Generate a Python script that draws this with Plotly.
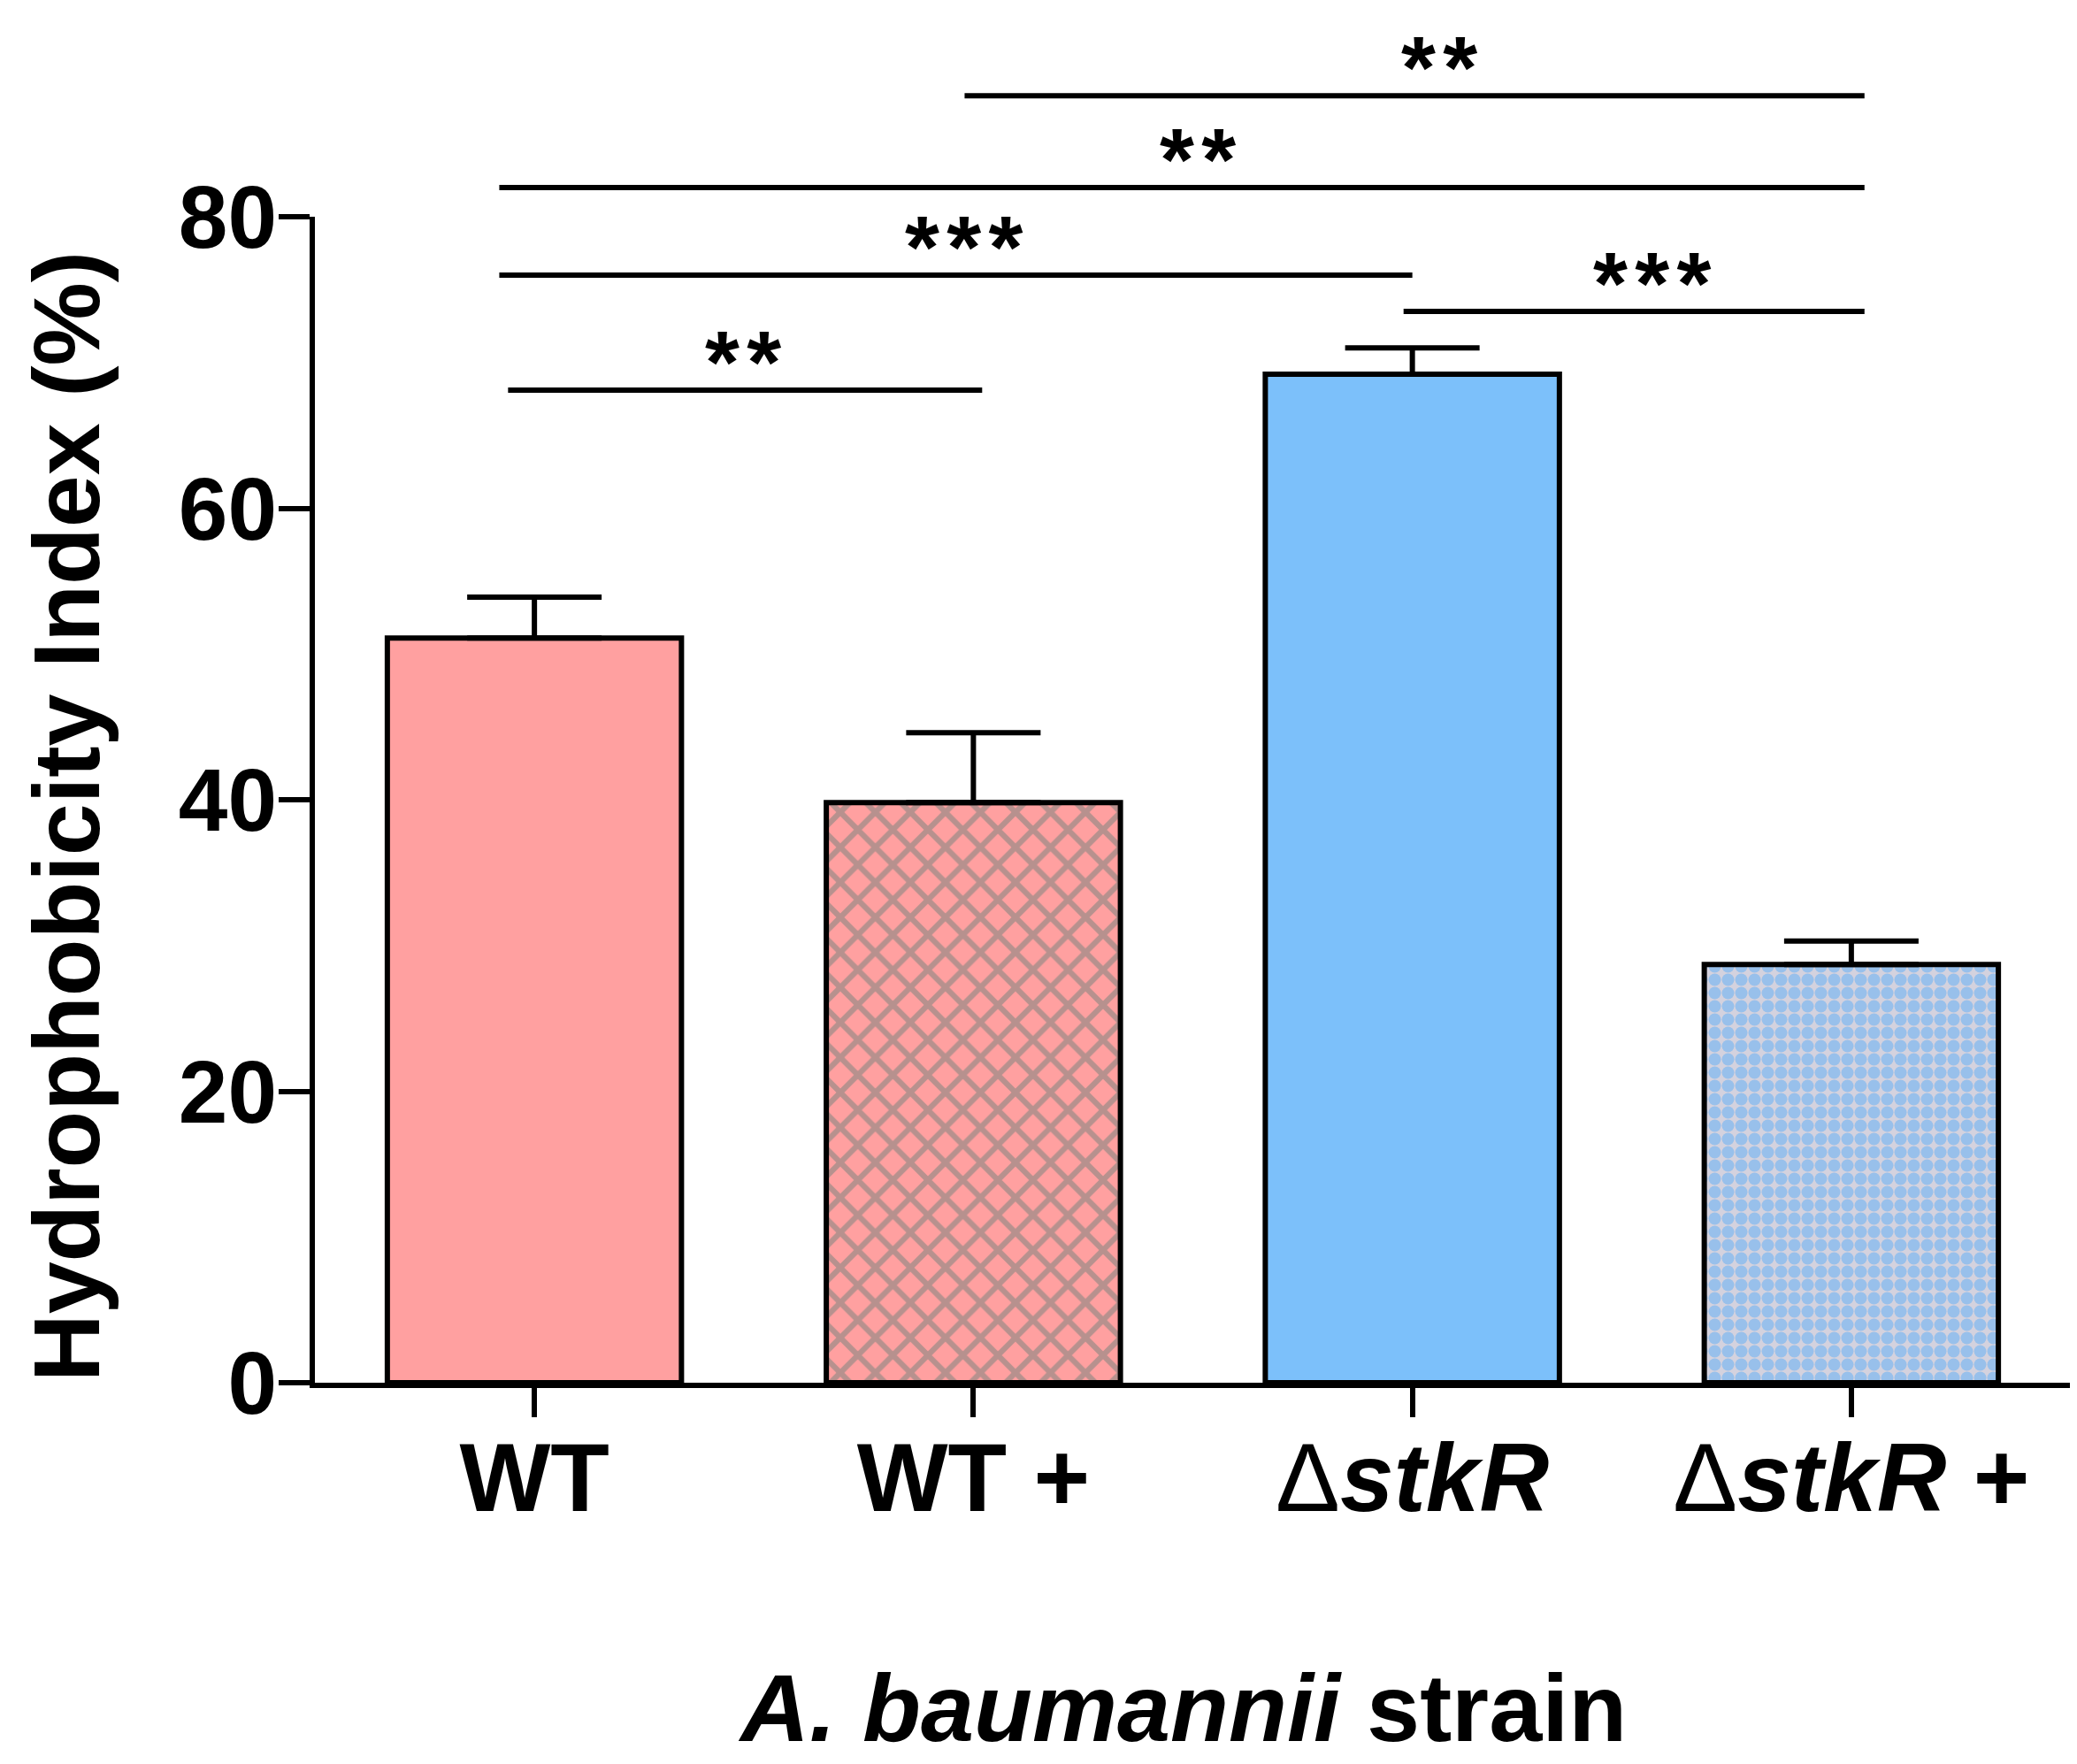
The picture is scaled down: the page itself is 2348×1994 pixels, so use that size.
import plotly.graph_objects as go

strains = ["WT", "WT +", "ΔstkR", "ΔstkR +"]
tick_text = ["WT", "WT +",
             "<span style='font-weight:normal'>Δ</span><i>stkR</i>",
             "<span style='font-weight:normal'>Δ</span><i>stkR</i> +"]
means = [51.1, 39.8, 69.2, 28.7]
sem = [2.8, 4.8, 1.8, 1.6]

# significance brackets (x in category units, height in %)
cmp_label = ["**", "***", "***", "**", "**"]
cmp_height = [68.1, 76.0, 73.5, 82.0, 88.3]
cmp_x0 = [-0.06, -0.08, 1.98, -0.08, 0.98]
cmp_x1 = [1.02, 2.0, 3.03, 3.03, 3.03]
cmp_label_x = [0.476, 0.98, 2.546, 1.511, 2.061]

FONT = "Liberation Sans, Arial, sans-serif"
fills = ["#FFA0A0", "#FFA0A0", "#7CC0FA", "#7CC0FA"]
patterns = [
    dict(shape=""),
    dict(shape="x", fgcolor="#6F817C", bgcolor="#FFA0A0", size=28, solidity=0.4),
    dict(shape=""),
    dict(shape=".", fgcolor="#5CAEF8", bgcolor="#D4D2DE", size=15, solidity=0.68),
]

fig = go.Figure()
for i in range(len(strains)):
    fig.add_trace(go.Bar(
        x=[i], y=[means[i]], width=0.67,
        marker=dict(color=fills[i], pattern=patterns[i],
                    line=dict(color="black", width=6)),
        error_y=dict(type="data", symmetric=False, array=[sem[i]], arrayminus=[0],
                     color="black", thickness=6, width=76),
        showlegend=False,
    ))

ymax = 80
shapes = []
annotations = []
for lab, h, x0, x1, lx in zip(cmp_label, cmp_height, cmp_x0, cmp_x1, cmp_label_x):
    shapes.append(dict(type="line", xref="x", yref="paper", x0=x0, x1=x1,
                       y0=h / ymax, y1=h / ymax, line=dict(color="black", width=6)))
    annotations.append(dict(xref="x", yref="paper", x=lx, y=h / ymax,
                            yshift=-26, text="\u200a".join(lab), showarrow=False,
                            yanchor="bottom", xanchor="center",
                            font=dict(size=100, family=FONT, color="black", weight="bold")))

annotations.append(dict(xref="paper", yref="paper", x=-0.1416, y=0.4856,
                        xanchor="center", yanchor="middle",
                        text="<b>Hydrophobicity Index (%)</b>", textangle=-90,
                        showarrow=False, font=dict(size=106, family=FONT, color="black")))
annotations.append(dict(xref="paper", yref="paper", x=0.494, y=-0.2785,
                        xanchor="center", yanchor="middle",
                        text="<b><i>A. baumannii</i> strain</b>",
                        showarrow=False, font=dict(size=108, family=FONT, color="black")))

fig.update_layout(
    width=2348, height=1994,
    margin=dict(l=348, r=15, t=237, b=439),
    plot_bgcolor="white", paper_bgcolor="white",
    shapes=shapes,
    annotations=annotations,
    font=dict(family=FONT, color="black"),
)
fig.update_xaxes(
    range=[-0.5, 3.5], tickvals=list(range(len(strains))), ticktext=tick_text,
    showline=True, linecolor="black", linewidth=6,
    ticks="outside", ticklen=33, tickwidth=6, tickcolor="black",
    ticklabelstandoff=-25,
    tickfont=dict(size=109, family=FONT, color="black", weight="bold"),
    showgrid=False, zeroline=False,
)
fig.update_yaxes(
    range=[0, 80], tickvals=[0, 20, 40, 60, 80],
    showline=True, linecolor="black", linewidth=6,
    ticks="outside", ticklen=35, tickwidth=6, tickcolor="black",
    ticklabelstandoff=-18,
    tickfont=dict(size=100, family=FONT, color="black", weight="bold"),
    showgrid=False, zeroline=False,
)

fig.write_html("out.html")
